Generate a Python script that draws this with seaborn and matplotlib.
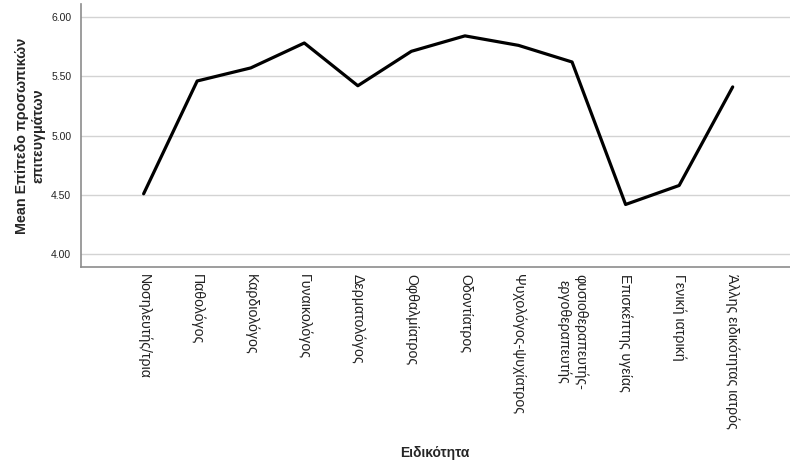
import numpy as np
import pandas as pd

import matplotlib
matplotlib.use('Agg')
import matplotlib.pyplot as plt
import seaborn as sns

# Specialty categories (x axis) and mean personal achievement level
specialties = ['Νοσηλευτής/τρια', 'Παθολόγος', 'Καρδιολόγος', 'Γυναικολόγος',
               'Δερματολόγος', 'Οφθαλμίατρος', 'Οδοντίατρος', 'Ψυχολόγος-ψυχίατρος',
               'φυσιοθεραπευτής-\nεργοθεραπευτής', 'Επισκέπτης υγείας',
               'Γενική ιατρική', 'Άλλης ειδικότητας ιατρός']
mean_values = [4.51, 5.46, 5.57, 5.78, 5.42, 5.71, 5.84, 5.76, 5.62, 4.42, 4.58, 5.41]
y_ticks = [4.00, 4.50, 5.00, 5.50, 6.00]

sns.set_style('white')
plt.rcParams['font.family'] = ['Liberation Sans', 'DejaVu Sans']

df = pd.DataFrame({'pos': np.arange(len(specialties)), 'mean': mean_values})

fig = plt.figure(figsize=(7.9, 4.63), dpi=100)
ax = fig.add_axes([0.1025, 0.424, 0.8975, 0.567])

for t in y_ticks:
    ax.axhline(t, color='#d3d3d3', linewidth=1.0, zorder=0)

sns.lineplot(data=df, x='pos', y='mean', color='black', linewidth=2.3, ax=ax, sort=False)

ax.set_xlim(-1.17, 12.07)
ax.set_ylim(3.896, 6.107)
ax.set_yticks(y_ticks)
ax.set_yticklabels(['%.2f' % t for t in y_ticks], fontsize=7.5, color='#222222')
ax.set_xticks(df['pos'])
ax.set_xticklabels(specialties, rotation=270, ha='center', va='top', fontsize=10.2, color='#222222')
ax.tick_params(axis='x', length=0, pad=5)
ax.tick_params(axis='y', length=0, pad=7)

for side in ['top', 'right']:
    ax.spines[side].set_visible(False)
for side in ['left', 'bottom']:
    ax.spines[side].set_color('#8c8c8c')
    ax.spines[side].set_linewidth(1.2)

ax.set_xlabel('')
ax.set_ylabel('Mean Επίπεδο προσωπικών\nεπιτευγμάτων', fontsize=10.3, fontweight='bold', labelpad=4)
fig.text(0.551, 0.022, 'Ειδικότητα', ha='center', va='center', fontsize=10, fontweight='bold')

plt.savefig('out.png', dpi=100)
